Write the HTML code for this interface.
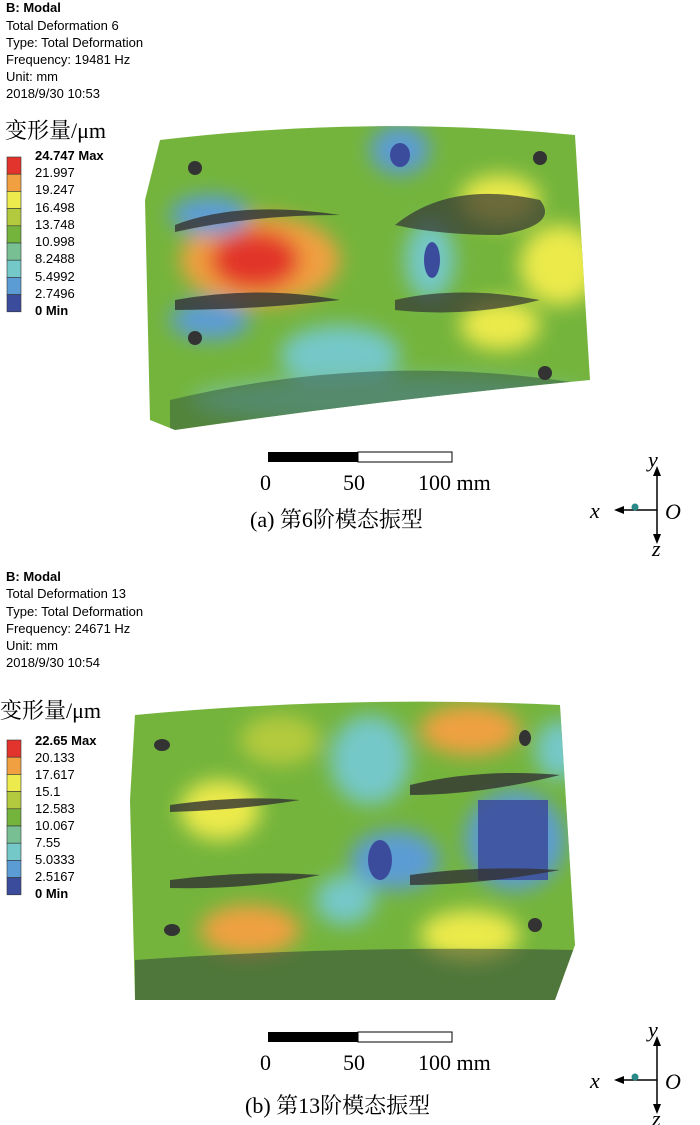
<!DOCTYPE html><html><head><meta charset="utf-8"><style>
body{margin:0;background:#fff;width:700px;height:1125px;overflow:hidden}
svg{display:block}
.h{font-family:"Liberation Sans",sans-serif;font-size:13px;fill:#000}
.l{font-family:"Liberation Sans",sans-serif;font-size:13px;fill:#000}
.c{font-family:"Liberation Serif","Noto Serif CJK SC",serif;font-size:22px;fill:#000}
</style></head><body>
<svg width="700" height="1125" viewBox="0 0 700 1125">
<defs>
<filter id="b"><feGaussianBlur stdDeviation="10"/></filter>
<clipPath id="c1"><path d="M160 140 Q370 115 575 135 L590 380 Q380 400 175 430 L150 420 L145 200 Z"/></clipPath>
<clipPath id="c2"><path d="M135 715 Q350 695 560 705 L575 945 L555 1000 L135 1000 L130 800 Z"/></clipPath>
</defs>
<text class="h" x="6" y="12" font-weight="bold">B: Modal</text>
<text class="h" x="6" y="30">Total Deformation 6</text>
<text class="h" x="6" y="47">Type: Total Deformation</text>
<text class="h" x="6" y="64">Frequency: 19481 Hz</text>
<text class="h" x="6" y="81">Unit: mm</text>
<text class="h" x="6" y="98">2018/9/30 10:53</text>
<text x="5" y="138" class="c" font-size="24">变形量/μm</text>
<g id="leg1">
<rect x="7" y="157" width="14" height="17.2" fill="#e2342c" stroke="#333" stroke-width="0.6"/>
<rect x="7" y="174.2" width="14" height="17.2" fill="#f0a040" stroke="#333" stroke-width="0.6"/>
<rect x="7" y="191.4" width="14" height="17.2" fill="#ecea4c" stroke="#333" stroke-width="0.6"/>
<rect x="7" y="208.6" width="14" height="17.2" fill="#b4ca3e" stroke="#333" stroke-width="0.6"/>
<rect x="7" y="225.8" width="14" height="17.2" fill="#74b43c" stroke="#333" stroke-width="0.6"/>
<rect x="7" y="243" width="14" height="17.2" fill="#78c094" stroke="#333" stroke-width="0.6"/>
<rect x="7" y="260.2" width="14" height="17.2" fill="#74c8c8" stroke="#333" stroke-width="0.6"/>
<rect x="7" y="277.4" width="14" height="17.2" fill="#5c9cd4" stroke="#333" stroke-width="0.6"/>
<rect x="7" y="294.6" width="14" height="17.2" fill="#3c4c9c" stroke="#333" stroke-width="0.6"/>
</g>
<text class="l" x="35" y="160" font-weight="bold">24.747 Max</text>
<text class="l" x="35" y="177">21.997</text><text class="l" x="35" y="194">19.247</text>
<text class="l" x="35" y="212">16.498</text><text class="l" x="35" y="229">13.748</text>
<text class="l" x="35" y="246">10.998</text><text class="l" x="35" y="263">8.2488</text>
<text class="l" x="35" y="281">5.4992</text><text class="l" x="35" y="298">2.7496</text>
<text class="l" x="35" y="315" font-weight="bold">0 Min</text>
<g clip-path="url(#c1)">
<rect x="140" y="110" width="460" height="330" fill="#74b43c"/>
<g filter="url(#b)">
<ellipse cx="260" cy="260" rx="80" ry="45" fill="#f0a040"/>
<ellipse cx="255" cy="260" rx="45" ry="30" fill="#e2342c"/>
<ellipse cx="560" cy="265" rx="40" ry="40" fill="#ecea4c"/>
<ellipse cx="500" cy="200" rx="40" ry="25" fill="#ecea4c"/>
<ellipse cx="500" cy="325" rx="40" ry="25" fill="#ecea4c"/>
<ellipse cx="210" cy="215" rx="40" ry="20" fill="#5c9cd4"/>
<ellipse cx="210" cy="320" rx="40" ry="20" fill="#5c9cd4"/>
<ellipse cx="400" cy="150" rx="30" ry="25" fill="#5c9cd4"/>
<ellipse cx="430" cy="260" rx="25" ry="40" fill="#74c8c8"/>
<ellipse cx="340" cy="355" rx="60" ry="30" fill="#74c8c8"/>
<ellipse cx="390" cy="400" rx="200" ry="25" fill="#78c094"/>
</g>
<ellipse cx="400" cy="155" rx="10" ry="12" fill="#3c4c9c"/>
<ellipse cx="432" cy="260" rx="8" ry="18" fill="#3c4c9c"/>
<path d="M175 225 Q240 200 340 215 Q250 215 175 232Z" fill="#333" opacity=".8"/>
<path d="M175 300 Q260 285 340 300 Q250 310 175 310Z" fill="#333" opacity=".8"/>
<path d="M395 225 Q450 180 540 200 Q560 225 500 235 Q440 235 395 225Z" fill="#333" opacity=".7"/>
<path d="M395 300 Q460 285 540 300 Q470 318 395 310Z" fill="#333" opacity=".7"/>
<path d="M170 400 Q380 350 590 385 L590 440 L170 440Z" fill="#2a4a3a" opacity=".45"/>
<circle cx="195" cy="168" r="7" fill="#333"/><circle cx="540" cy="158" r="7" fill="#333"/>
<circle cx="195" cy="338" r="7" fill="#333"/><circle cx="545" cy="373" r="7" fill="#333"/>
</g>
<rect x="268" y="452" width="90" height="10" fill="#000"/><rect x="358" y="452" width="94" height="10" fill="#fff" stroke="#000"/>
<text class="c" x="260" y="490">0</text><text class="c" x="343" y="490">50</text><text class="c" x="418" y="490">100 mm</text>
<text class="c" x="250" y="527">(a) 第6阶模态振型</text>
<g stroke="#000" stroke-width="1.5" fill="none"><path d="M657 470 V540 M657 510 H618"/></g>
<path d="M653 476 L657 466 L661 476Z M624 506 L614 510 L624 514Z M653 534 L657 544 L661 534Z" fill="#000"/>
<circle cx="635" cy="507" r="3.5" fill="#2a8a8a"/>
<text class="c" x="648" y="467" font-style="italic" font-size="20">y</text>
<text class="c" x="590" y="518" font-style="italic" font-size="20">x</text>
<text class="c" x="665" y="519" font-style="italic" font-size="20">O</text>
<text class="c" x="652" y="556" font-style="italic" font-size="20">z</text>
<text class="h" x="6" y="581" font-weight="bold">B: Modal</text>
<text class="h" x="6" y="598">Total Deformation 13</text>
<text class="h" x="6" y="616">Type: Total Deformation</text>
<text class="h" x="6" y="633">Frequency: 24671 Hz</text>
<text class="h" x="6" y="650">Unit: mm</text>
<text class="h" x="6" y="667">2018/9/30 10:54</text>
<text x="0" y="718" class="c" font-size="24">变形量/μm</text>
<use href="#leg1" y="583" transform="translate(0,0)"/>
<text class="l" x="35" y="745" font-weight="bold">22.65 Max</text>
<text class="l" x="35" y="762">20.133</text><text class="l" x="35" y="779">17.617</text>
<text class="l" x="35" y="796">15.1</text><text class="l" x="35" y="813">12.583</text>
<text class="l" x="35" y="830">10.067</text><text class="l" x="35" y="847">7.55</text>
<text class="l" x="35" y="864">5.0333</text><text class="l" x="35" y="881">2.5167</text>
<text class="l" x="35" y="898" font-weight="bold">0 Min</text>
<g clip-path="url(#c2)">
<rect x="125" y="690" width="460" height="320" fill="#74b43c"/>
<g filter="url(#b)">
<ellipse cx="220" cy="810" rx="40" ry="30" fill="#ecea4c"/>
<ellipse cx="280" cy="740" rx="40" ry="25" fill="#b4ca3e"/>
<ellipse cx="470" cy="730" rx="50" ry="25" fill="#f0a040"/>
<ellipse cx="250" cy="930" rx="50" ry="25" fill="#f0a040"/>
<ellipse cx="470" cy="935" rx="50" ry="25" fill="#ecea4c"/>
<ellipse cx="370" cy="760" rx="40" ry="45" fill="#74c8c8"/>
<ellipse cx="395" cy="860" rx="45" ry="30" fill="#5c9cd4"/>
<ellipse cx="515" cy="840" rx="50" ry="50" fill="#5c9cd4"/>
<ellipse cx="560" cy="750" rx="25" ry="30" fill="#74c8c8"/>
<ellipse cx="345" cy="900" rx="30" ry="25" fill="#74c8c8"/>
</g>
<rect x="478" y="800" width="70" height="80" fill="#3c4c9c" opacity=".85"/>
<ellipse cx="380" cy="860" rx="12" ry="20" fill="#3c4c9c"/>
<path d="M170 805 Q240 795 300 800 Q240 810 170 812Z" fill="#333" opacity=".8"/>
<path d="M170 880 Q250 870 320 875 Q250 890 170 888Z" fill="#333" opacity=".8"/>
<path d="M410 785 Q480 768 560 775 Q480 795 410 795Z" fill="#333" opacity=".8"/>
<path d="M410 875 Q480 865 560 870 Q480 885 410 885Z" fill="#333" opacity=".8"/>
<path d="M135 960 Q350 945 575 950 L575 1005 L135 1005Z" fill="#2a3a3a" opacity=".5"/>
<ellipse cx="162" cy="745" rx="8" ry="6" fill="#333"/><ellipse cx="525" cy="738" rx="6" ry="8" fill="#333"/>
<ellipse cx="172" cy="930" rx="8" ry="6" fill="#333"/><ellipse cx="535" cy="925" rx="7" ry="7" fill="#333"/>
</g>
<rect x="268" y="1032" width="90" height="10" fill="#000"/><rect x="358" y="1032" width="94" height="10" fill="#fff" stroke="#000"/>
<text class="c" x="260" y="1070">0</text><text class="c" x="343" y="1070">50</text><text class="c" x="418" y="1070">100 mm</text>
<text class="c" x="245" y="1113">(b) 第13阶模态振型</text>
<g transform="translate(0,570)">
<g stroke="#000" stroke-width="1.5" fill="none"><path d="M657 470 V540 M657 510 H618"/></g>
<path d="M653 476 L657 466 L661 476Z M624 506 L614 510 L624 514Z M653 534 L657 544 L661 534Z" fill="#000"/>
<circle cx="635" cy="507" r="3.5" fill="#2a8a8a"/>
<text class="c" x="648" y="467" font-style="italic" font-size="20">y</text>
<text class="c" x="590" y="518" font-style="italic" font-size="20">x</text>
<text class="c" x="665" y="519" font-style="italic" font-size="20">O</text>
<text class="c" x="652" y="556" font-style="italic" font-size="20">z</text>
</g>
</svg>
</body></html>
